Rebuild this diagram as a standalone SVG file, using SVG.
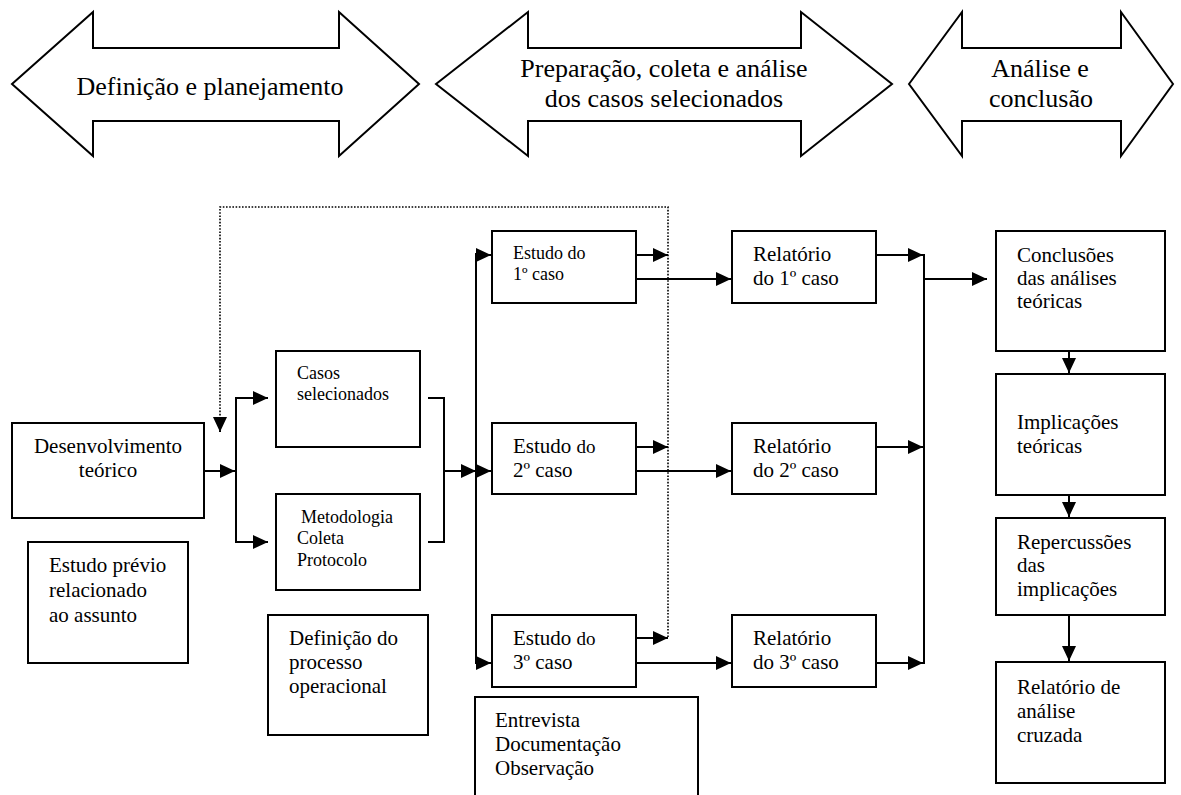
<svg xmlns="http://www.w3.org/2000/svg" width="1181" height="795" viewBox="0 0 1181 795">
<style>
text{font-family:"Liberation Serif","Times New Roman",serif;fill:#000}
.big{font-size:26px}
.t21{font-size:21px}
.t18{font-size:18px}
.box{fill:#fff;stroke:#000;stroke-width:2}
.blk{fill:#fff;stroke:#000;stroke-width:2;stroke-linejoin:miter}
.ln{fill:none;stroke:#000;stroke-width:2}
.dot{fill:none;stroke:#000;stroke-width:1.6;stroke-dasharray:1.6,1.6}
</style>
<defs>
<marker id="ah" markerUnits="userSpaceOnUse" markerWidth="16" markerHeight="15" refX="15" refY="7" orient="auto">
<path d="M0,0 L15,7 L0,14 z" fill="#000"/>
</marker>
</defs>

<g id="phase1">
<polygon class="blk" points="12,84 93,12 93,48 339,48 339,12 419,84 339,156 339,121 93,121 93,156"/>
<text class="big" x="210" y="95" text-anchor="middle">Definição e planejamento</text>
</g>
<g id="phase2">
<polygon class="blk" points="436,84 528,12 528,48 801,48 801,12 892,84 801,156 801,121 528,121 528,156"/>
<text class="big" x="664" y="77" text-anchor="middle">Preparação, coleta e análise</text>
<text class="big" x="664" y="107" text-anchor="middle">dos casos selecionados</text>
</g>
<g id="phase3">
<polygon class="blk" points="909,84 962,12 962,48 1121,48 1121,12 1173,84 1121,156 1121,121 962,121 962,156"/>
<text class="big" x="1040" y="77" text-anchor="middle">Análise e</text>
<text class="big" x="1041" y="107" text-anchor="middle">conclusão</text>
</g>

<g id="connectors">
<polyline class="dot" points="668,637 668,207 220,207 220,432"/>
<line class="ln" x1="220" y1="431" x2="220" y2="432" marker-end="url(#ah)"/>
<line class="ln" x1="204" y1="471" x2="235" y2="471" marker-end="url(#ah)"/>
<line class="ln" x1="236" y1="398" x2="236" y2="542"/>
<line class="ln" x1="235" y1="398" x2="268" y2="398" marker-end="url(#ah)"/>
<line class="ln" x1="235" y1="542" x2="268" y2="542" marker-end="url(#ah)"/>
<polyline class="ln" points="428,398 444,398 444,542 428,542"/>
<line class="ln" x1="444" y1="471" x2="476" y2="471" marker-end="url(#ah)"/>
<line class="ln" x1="476" y1="253" x2="476" y2="663"/>
<line class="ln" x1="475" y1="255" x2="491" y2="255" marker-end="url(#ah)"/>
<line class="ln" x1="475" y1="471" x2="491" y2="471" marker-end="url(#ah)"/>
<line class="ln" x1="475" y1="663" x2="491" y2="663" marker-end="url(#ah)"/>
<line class="ln" x1="636" y1="255" x2="668" y2="255" marker-end="url(#ah)"/>
<line class="ln" x1="636" y1="447" x2="668" y2="447" marker-end="url(#ah)"/>
<line class="ln" x1="636" y1="638" x2="668" y2="638" marker-end="url(#ah)"/>
<line class="ln" x1="636" y1="279" x2="731" y2="279" marker-end="url(#ah)"/>
<line class="ln" x1="636" y1="471" x2="731" y2="471" marker-end="url(#ah)"/>
<line class="ln" x1="636" y1="663" x2="731" y2="663" marker-end="url(#ah)"/>
<line class="ln" x1="876" y1="255" x2="923" y2="255" marker-end="url(#ah)"/>
<line class="ln" x1="876" y1="447" x2="923" y2="447" marker-end="url(#ah)"/>
<line class="ln" x1="876" y1="663" x2="923" y2="663" marker-end="url(#ah)"/>
<line class="ln" x1="924" y1="254" x2="924" y2="664"/>
<line class="ln" x1="924" y1="279" x2="987" y2="279" marker-end="url(#ah)"/>
<line class="ln" x1="1069" y1="351" x2="1069" y2="373" marker-end="url(#ah)"/>
<line class="ln" x1="1069" y1="495" x2="1069" y2="517" marker-end="url(#ah)"/>
<line class="ln" x1="1069" y1="615" x2="1069" y2="661" marker-end="url(#ah)"/>
</g>

<g id="desenvolvimento">
<rect class="box" x="12" y="423" width="192" height="95"/>
<text class="t21" x="108" y="453" text-anchor="middle">Desenvolvimento</text>
<text class="t21" x="108" y="477" text-anchor="middle">teórico</text>
</g>
<g id="estudo-previo">
<rect class="box" x="28" y="542" width="160" height="121"/>
<text class="t21" x="49" y="572">Estudo prévio</text>
<text class="t21" x="49" y="597">relacionado</text>
<text class="t21" x="49" y="622">ao assunto</text>
</g>
<g id="casos">
<rect class="box" x="276" y="351" width="144" height="96"/>
<text class="t18" x="297" y="379">Casos</text>
<text class="t18" x="297" y="400">selecionados</text>
</g>
<g id="metodologia">
<rect class="box" x="276" y="494" width="144" height="96"/>
<text class="t18" x="301" y="523">Metodologia</text>
<text class="t18" x="297" y="544">Coleta</text>
<text class="t18" x="297" y="566">Protocolo</text>
</g>
<g id="definicao-processo">
<rect class="box" x="268" y="615" width="160" height="120"/>
<text class="t21" x="289" y="645">Definição do</text>
<text class="t21" x="289" y="669">processo</text>
<text class="t21" x="289" y="693">operacional</text>
</g>
<g id="estudo1">
<rect class="box" x="492" y="231" width="144" height="72"/>
<text class="t18" x="513" y="259">Estudo do</text>
<text class="t18" x="513" y="280">1º caso</text>
</g>
<g id="estudo2">
<rect class="box" x="492" y="423" width="144" height="71"/>
<text class="t21" x="513" y="453">Estudo <tspan font-size="19">do</tspan></text>
<text class="t21" x="513" y="477">2º caso</text>
</g>
<g id="estudo3">
<rect class="box" x="492" y="615" width="144" height="72"/>
<text class="t21" x="513" y="645">Estudo <tspan font-size="19">do</tspan></text>
<text class="t21" x="513" y="669">3º caso</text>
</g>
<g id="entrevista">
<rect class="box" x="475" y="697" width="223" height="110"/>
<text class="t21" x="495" y="727">Entrevista</text>
<text class="t21" x="495" y="751">Documentação</text>
<text class="t21" x="495" y="775">Observação</text>
</g>
<g id="relatorio1">
<rect class="box" x="732" y="231" width="144" height="72"/>
<text class="t21" x="753" y="261">Relatório</text>
<text class="t21" x="753" y="285">do 1º caso</text>
</g>
<g id="relatorio2">
<rect class="box" x="732" y="423" width="144" height="71"/>
<text class="t21" x="753" y="453">Relatório</text>
<text class="t21" x="753" y="477">do 2º caso</text>
</g>
<g id="relatorio3">
<rect class="box" x="732" y="615" width="144" height="72"/>
<text class="t21" x="753" y="645">Relatório</text>
<text class="t21" x="753" y="669">do 3º caso</text>
</g>
<g id="conclusoes">
<rect class="box" x="996" y="231" width="169" height="120"/>
<text class="t21" x="1017" y="262">Conclusões</text>
<text class="t21" x="1017" y="285">das análises</text>
<text class="t21" x="1017" y="308">teóricas</text>
</g>
<g id="implicacoes">
<rect class="box" x="996" y="374" width="169" height="121"/>
<text class="t21" x="1017" y="429">Implicações</text>
<text class="t21" x="1017" y="453">teóricas</text>
</g>
<g id="repercussoes">
<rect class="box" x="996" y="518" width="169" height="97"/>
<text class="t21" x="1017" y="549">Repercussões</text>
<text class="t21" x="1017" y="572">das</text>
<text class="t21" x="1017" y="596">implicações</text>
</g>
<g id="relatorio-cruzada">
<rect class="box" x="996" y="662" width="169" height="121"/>
<text class="t21" x="1017" y="694">Relatório de</text>
<text class="t21" x="1017" y="718">análise</text>
<text class="t21" x="1017" y="742">cruzada</text>
</g>
</svg>
